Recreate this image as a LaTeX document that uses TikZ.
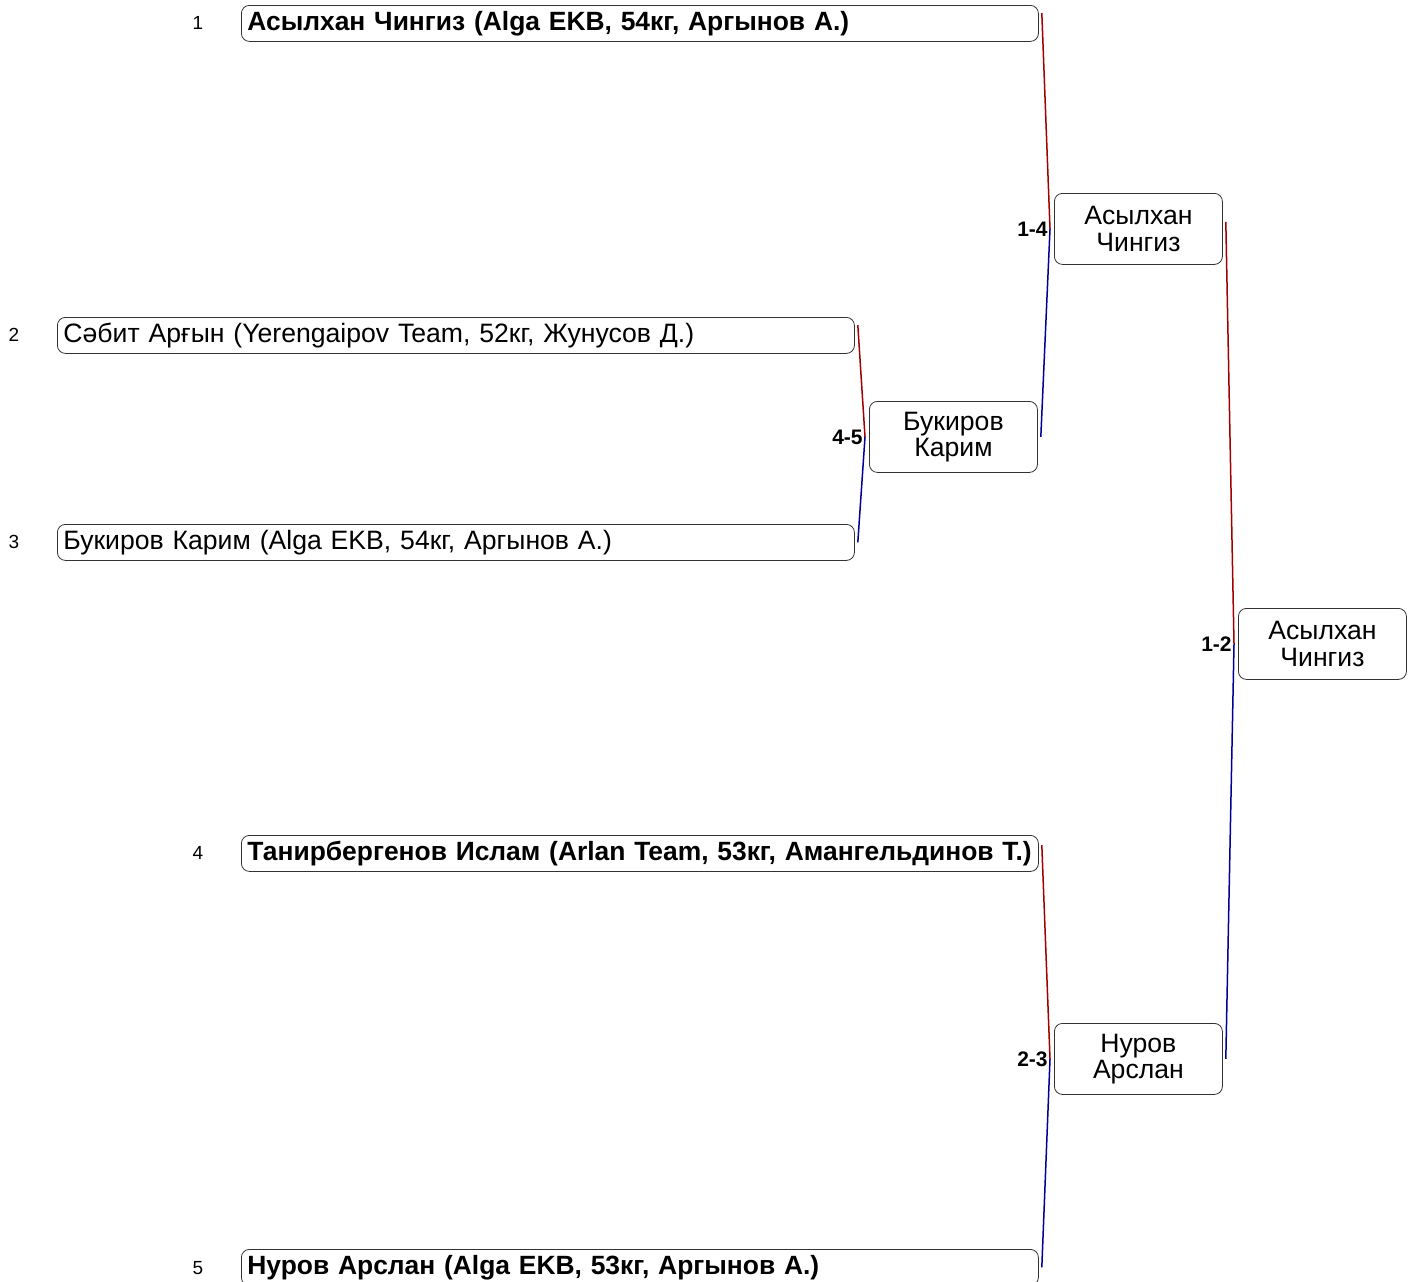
\documentclass[tikz,border=0pt]{standalone}
\usepackage{fontspec}
\setmainfont{Liberation Sans}
\definecolor{winred}{RGB}{160,0,0}
\definecolor{losblue}{RGB}{0,0,150}

\begin{document}
\begin{tikzpicture}[x=0.5pt, y=-0.5pt,
    player/.style={draw=black!80, rounded corners=4pt, minimum width=398.5pt,
        minimum height=18pt, text width=392.5pt, inner xsep=3pt, inner ysep=0pt,
        align=left, anchor=north west, font=\fontsize{13.3}{14}\selectfont},
    playerwin/.style={player, font=\bfseries\fontsize{13.2}{14}\selectfont},
    champ/.style={draw=black!80, rounded corners=4pt, minimum width=84pt,
        minimum height=35.5pt, inner sep=0pt, align=center, anchor=north west,
        font=\fontsize{13.3}{13.3}\selectfont},
    seed/.style={font=\fontsize{9.5}{10}\selectfont},
    score/.style={anchor=east, inner sep=1pt, font=\bfseries\fontsize{10.5}{12}\selectfont},
    redline/.style={winred, line width=0.75pt},
    blueline/.style={losblue, line width=0.75pt}]
    \useasboundingbox (0,0) rectangle (1411,1281);

    % Seeds
    \node [seed] (n1) at (198,23) {1};
    \node [seed] (n2) at (14,335) {2};
    \node [seed] (n3) at (14,542) {3};
    \node [seed] (n4) at (198,853) {4};
    \node [seed] (n5) at (198,1268) {5};

    % Participants
    \node [playerwin] (p1) at (241,5) {Асылхан Чингиз (Alga EKB, 54кг, Аргынов А.)};
    \node [player] (p2) at (57,317) {Сәбит Арғын (Yerengaipov Team, 52кг, Жунусов Д.)};
    \node [player] (p3) at (57,524) {Букиров Карим (Alga EKB, 54кг, Аргынов А.)};
    \node [playerwin] (p4) at (241,835) {Танирбергенов Ислам (Arlan Team, 53кг, Амангельдинов Т.)};
    \node [playerwin] (p5) at (241,1249) {Нуров Арслан (Alga EKB, 53кг, Аргынов А.)};

    % Winners
    \node [champ] (r45) at (869,401) {Букиров\\Карим};
    \node [champ] (r14) at (1054,193) {Асылхан\\Чингиз};
    \node [champ] (r23) at (1054,1023) {Нуров\\Арслан};
    \node [champ] (fin) at (1238,608) {Асылхан\\Чингиз};

    \coordinate (j45) at ([xshift=-2pt]r45.west);
    \coordinate (j14) at ([xshift=-2pt]r14.west);
    \coordinate (j23) at ([xshift=-2pt]r23.west);
    \coordinate (jfin) at ([xshift=-2pt]fin.west);

    % Bouts
    \draw [redline] ([xshift=1.5pt,yshift=-4pt]p2.north east) -- (j45);
    \draw [blueline] (j45) -- ([xshift=1.5pt]p3.east);
    \node [score] (s45) at (j45) {4-5};

    \draw [redline] ([xshift=1.5pt,yshift=-4pt]p1.north east) -- (j14);
    \draw [blueline] (j14) -- ([xshift=1.5pt]r45.east);
    \node [score] (s14) at (j14) {1-4};

    \draw [redline] ([xshift=1.5pt,yshift=-5pt]p4.north east) -- (j23);
    \draw [blueline] (j23) -- ([xshift=1.5pt]p5.east);
    \node [score] (s23) at (j23) {2-3};

    \draw [redline] ([xshift=1.5pt,yshift=3.5pt]r14.east) -- (jfin);
    \draw [blueline] (jfin) -- ([xshift=1.5pt]r23.east);
    \node [score] (s12) at (jfin) {1-2};
\end{tikzpicture}
\end{document}
